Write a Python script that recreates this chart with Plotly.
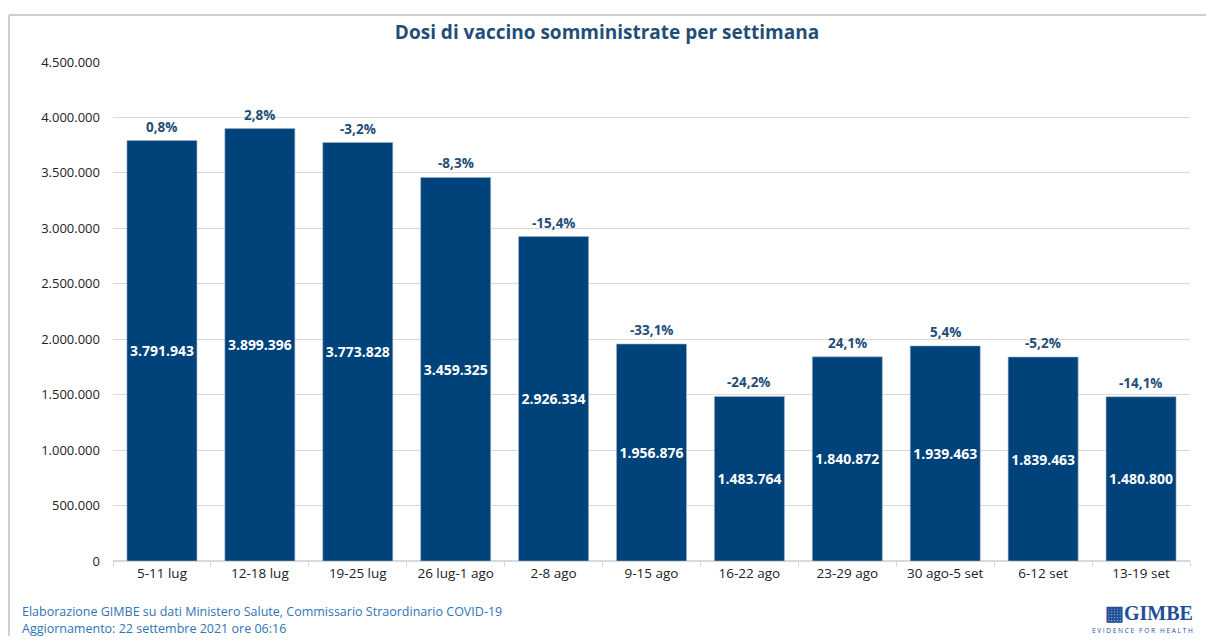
import plotly.graph_objects as go

weeks = ["5-11 lug", "12-18 lug", "19-25 lug", "26 lug-1 ago", "2-8 ago", "9-15 ago",
         "16-22 ago", "23-29 ago", "30 ago-5 set", "6-12 set", "13-19 set"]
doses = [3791943, 3899396, 3773828, 3459325, 2926334, 1956876,
         1483764, 1840872, 1939463, 1839463, 1480800]
pct_change = ["0,8%", "2,8%", "-3,2%", "-8,3%", "-15,4%", "-33,1%",
              "-24,2%", "24,1%", "5,4%", "-5,2%", "-14,1%"]
tick_vals = [0, 500000, 1000000, 1500000, 2000000, 2500000, 3000000, 3500000, 4000000, 4500000]

def it(n):
    return f"{n:,}".replace(",", ".")

tick_text = [it(v) for v in tick_vals]

BAR = "#00427A"
DARK = "#1F4E79"
FONT = "Open Sans, Liberation Sans, sans-serif"

fig = go.Figure()
fig.add_trace(go.Bar(
    x=weeks, y=doses,
    marker=dict(color=BAR, line=dict(color="#9DB3CC", width=0.6)),
    text=[it(v) for v in doses], textposition="inside", insidetextanchor="middle",
    textfont=dict(color="white", size=14, family=FONT, weight="bold"),
    textangle=0, hoverinfo="skip",
))

for w, d, p in zip(weeks, doses, pct_change):
    fig.add_annotation(x=w, y=d, text=f"<b>{p}</b>", showarrow=False, yanchor="middle",
                       yshift=14, font=dict(color=DARK, size=13.5, family=FONT))

fig.update_layout(
    width=1198, height=628,
    paper_bgcolor="white", plot_bgcolor="white",
    margin=dict(l=105, r=16, t=54, b=75),
    showlegend=False,
    bargap=0.285,
    title=dict(text="<b>Dosi di vaccino somministrate per settimana</b>",
               x=0.5, xanchor="center", y=0.962, yanchor="middle",
               font=dict(size=19, color=DARK, family="Liberation Sans Narrow, Open Sans, sans-serif")),
    xaxis=dict(tickfont=dict(size=13.5, color="#222", family=FONT), showgrid=False,
               showline=True, linecolor="#d9d9d9", ticks="outside", tickson="boundaries",
               ticklen=5, tickcolor="#d9d9d9", fixedrange=True),
    yaxis=dict(range=[0, 4500000], tickvals=tick_vals, ticktext=tick_text,
               tickfont=dict(size=13, color="#222", family=FONT),
               showgrid=True, gridcolor="#d9d9d9", gridwidth=1, zeroline=True,
               zerolinecolor="#d9d9d9", ticks="", ticklabelstandoff=12),
    font=dict(family=FONT),
)

# slide frame
fig.add_shape(type="line", xref="paper", yref="paper", x0=-0.0966, x1=1.02, y0=1.094, y1=1.094,
              line=dict(color="#cfcfcf", width=2))
fig.add_shape(type="line", xref="paper", yref="paper", x0=-0.0966, x1=-0.0966, y0=1.094, y1=-0.16,
              line=dict(color="#cfcfcf", width=2))

fig.add_annotation(xref="paper", yref="paper", x=-0.0864, y=-0.102, xanchor="left", yanchor="middle",
                   align="left", showarrow=False,
                   text="Elaborazione GIMBE su dati Ministero Salute, Commissario Straordinario COVID-19",
                   font=dict(size=12.5, color="#2E75B6", family=FONT))
fig.add_annotation(xref="paper", yref="paper", x=-0.0864, y=-0.135, xanchor="left", yanchor="middle",
                   align="left", showarrow=False,
                   text="Aggiornamento: 22 settembre 2021 ore 06:16",
                   font=dict(size=12.5, color="#2E75B6", family=FONT))
fig.add_annotation(xref="paper", yref="paper", x=1.0046, y=-0.078, xanchor="right", yanchor="top",
                   showarrow=False, text="<b>▦GIMBE</b>",
                   font=dict(size=20, color="#1F4E9A", family="Liberation Serif, serif"))
fig.add_annotation(xref="paper", yref="paper", x=1.0046, y=-0.126, xanchor="right", yanchor="top",
                   showarrow=False, text="E V I D E N C E   F O R   H E A L T H",
                   font=dict(size=6.5, color="#1F4E9A", family=FONT))

fig.write_html("out.html")
